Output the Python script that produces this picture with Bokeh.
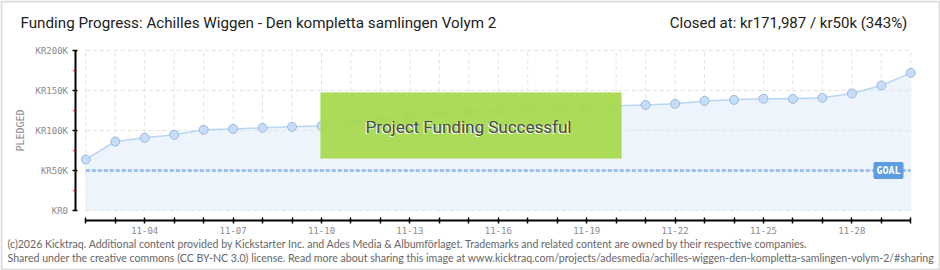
from bokeh.plotting import figure
from bokeh.models import (Range1d, FixedTicker, Label, BoxAnnotation, LinearAxis)
from bokeh.embed import file_html
from bokeh.resources import INLINE

# ---------------- data ----------------
dates = ["11-02", "11-03", "11-04", "11-05", "11-06", "11-07", "11-08", "11-09",
         "11-10", "11-11", "11-12", "11-13", "11-14", "11-15", "11-16", "11-17",
         "11-18", "11-19", "11-20", "11-21", "11-22", "11-23", "11-24", "11-25",
         "11-26", "11-27", "11-28", "11-29", "11-30"]
pledged = [63750, 86250, 90800, 94600, 100800, 102000, 103300, 104600,
           105800, 111250, 113300, 116250, 122500, 123750, 125000, 125000,
           127000, 128300, 130800, 132000, 133300, 137000, 138300, 139600,
           139600, 140800, 146250, 156250, 171987]
goal = 50000
y_ticks = [0, 50000, 100000, 150000, 200000]
y_tick_labels = ["KR0", "KR50K", "KR100K", "KR150K", "KR200K"]
y_minor_ticks = [25000, 75000, 125000, 175000]
x_label_dates = ["11-04", "11-07", "11-10", "11-13", "11-16", "11-19", "11-22", "11-25", "11-28"]

title_text = "Funding Progress: Achilles Wiggen - Den kompletta samlingen Volym 2"
status_text = "Closed at:  kr171,987  /  kr50k (343%)"
banner_text = "Project Funding Successful"
footer1 = ("(c)2026 Kicktraq. Additional content provided by Kickstarter Inc. and Ades Media & "
           "Albumförlaget. Trademarks and related content are owned by their respective companies.")
footer2 = ("Shared under the creative commons (CC BY-NC 3.0) license. Read more about sharing this "
           "image at www.kicktraq.com/projects/adesmedia/achilles-wiggen-den-kompletta-samlingen-volym-2/#sharing")

xs = list(range(len(dates)))
last = xs[-1]

# the plot frame spans the whole canvas; axes are placed at fixed positions inside it
p = figure(width=940, height=270, output_backend="svg", toolbar_location=None,
           x_range=Range1d(-2.895, 29.008), y_range=Range1d(-75000, 262500),
           x_axis_location=None, y_axis_location=None,
           min_border=0, min_border_left=0, min_border_right=0,
           min_border_top=0, min_border_bottom=0)
p.outline_line_color = None
p.background_fill_color = "white"
p.border_fill_color = "white"
p.xgrid.visible = False
p.ygrid.visible = False

grid_col = "#e3e3e3"
# vertical grid
p.segment(x0=xs, y0=[y_ticks[0]] * len(xs), x1=xs, y1=[y_ticks[-1]] * len(xs),
          line_color=grid_col, line_dash="4 3", line_width=1)
# area under the curve
p.varea(x=xs, y1=[0] * len(xs), y2=pledged, fill_color="#edf4fc")
# horizontal grid
p.segment(x0=[xs[0]] * len(y_ticks), y0=y_ticks, x1=[last] * len(y_ticks), y1=y_ticks,
          line_color=grid_col, line_dash="4 3", line_width=1)
# goal line
p.line([xs[0], last], [goal, goal], line_color="#9ec0ea", line_width=3, line_dash="4 2")
# pledged line and markers
p.line(xs, pledged, line_color="#b8d6f4", line_width=1.5)
p.scatter(xs, pledged, size=9, fill_color="#c6ddf8", line_color="#9db9de", line_width=1)

# axes
xa = LinearAxis(fixed_location=-12800)
xa.ticker = FixedTicker(ticks=xs)
xa.major_label_overrides = {i: (d if d in x_label_dates else "") for i, d in enumerate(dates)}
xa.bounds = (xs[0], last)
xa.axis_line_color = "black"
xa.axis_line_width = 2
xa.major_tick_line_color = "black"
xa.major_tick_line_width = 1.5
xa.major_tick_in = 3
xa.major_tick_out = 3
xa.minor_tick_line_color = None
xa.major_label_text_font = "DejaVu Sans Mono"
xa.major_label_text_font_size = "9px"
xa.major_label_text_color = "#8a8a8a"
xa.major_label_standoff = 3
p.add_layout(xa, "below")

ya = LinearAxis(fixed_location=-0.333)
ya.ticker = FixedTicker(ticks=y_ticks, minor_ticks=y_minor_ticks)
ya.major_label_overrides = {t: l for t, l in zip(y_ticks, y_tick_labels)}
ya.bounds = (y_ticks[0], y_ticks[-1])
ya.axis_line_color = "black"
ya.axis_line_width = 2
ya.major_tick_line_color = "black"
ya.major_tick_line_width = 1.5
ya.major_tick_in = 2
ya.major_tick_out = 3
ya.minor_tick_line_color = "red"
ya.minor_tick_line_width = 1.5
ya.minor_tick_in = 0
ya.minor_tick_out = 2
ya.major_label_text_font = "DejaVu Sans Mono"
ya.major_label_text_font_size = "9px"
ya.major_label_text_color = "#8a8a8a"
ya.major_label_standoff = 5
ya.axis_label = "PLEDGED"
ya.axis_label_text_font = "DejaVu Sans Mono"
ya.axis_label_text_font_size = "10px"
ya.axis_label_text_font_style = "normal"
ya.axis_label_text_color = "#8a8a8a"
ya.axis_label_standoff = 6
p.add_layout(ya, "left")

# success banner
p.add_layout(BoxAnnotation(left=320, right=621, bottom=112, top=178,
                           left_units="screen", right_units="screen",
                           bottom_units="screen", top_units="screen",
                           fill_color="#a6d84b", fill_alpha=0.93,
                           line_color="#c9e68e", line_width=1))
p.add_layout(Label(x=467, y=143, x_units="screen", y_units="screen", text=banner_text,
                   text_align="center", text_baseline="middle", text_font="Roboto",
                   text_font_size="17px", text_color="white"))
p.add_layout(Label(x=468, y=144, x_units="screen", y_units="screen", text=banner_text,
                   text_align="center", text_baseline="middle", text_font="Roboto",
                   text_font_size="17px", text_color="#4a4a4a"))

# goal tag
p.add_layout(Label(x=888, y=goal, x_units="screen", y_units="data", text="GOAL",
                   text_align="center", text_baseline="middle", text_font="DejaVu Sans Mono",
                   text_font_size="10px", text_font_style="bold", text_color="white",
                   background_fill_color="#5c9ce0", padding=3, border_radius=2))

# title & status
p.add_layout(Label(x=20, y=248, x_units="screen", y_units="screen", text=title_text,
                   text_align="left", text_baseline="middle", text_font="Roboto",
                   text_font_size="15.2px", text_color="#222222"))
p.add_layout(Label(x=918, y=248, x_units="screen", y_units="screen", text=status_text,
                   text_align="right", text_baseline="middle", text_font="Roboto",
                   text_font_size="15px", text_color="#222222"))

# footer
p.add_layout(Label(x=7, y=27, x_units="screen", y_units="screen", text=footer1,
                   text_align="left", text_baseline="middle", text_font="Lato",
                   text_font_size="10.6px", text_color="#666666"))
p.add_layout(Label(x=7, y=13, x_units="screen", y_units="screen", text=footer2,
                   text_align="left", text_baseline="middle", text_font="Lato",
                   text_font_size="10.6px", text_color="#666666"))

# outer border
p.add_layout(BoxAnnotation(left=1, right=939, bottom=1, top=269,
                           left_units="screen", right_units="screen",
                           bottom_units="screen", top_units="screen",
                           fill_color=None, line_color="#8c8c8c", line_width=2))

open("out.html", "w").write(file_html(p, INLINE))
